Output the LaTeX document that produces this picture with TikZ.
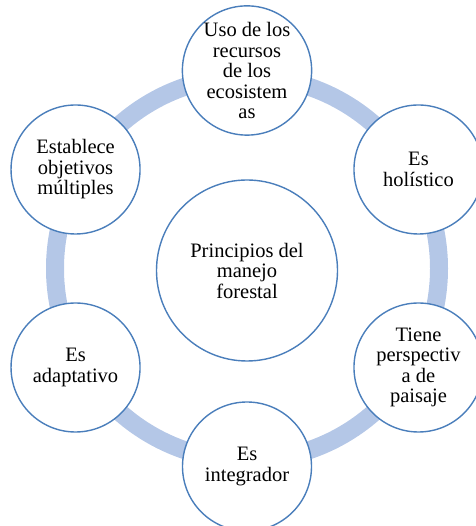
\documentclass[tikz,border=0pt]{standalone}
\usepackage{fontspec}
\setmainfont{Liberation Serif}
\usetikzlibrary{calc}

\definecolor{ringblue}{HTML}{B4C7E7}
\definecolor{edgeblue}{HTML}{4A7EBB}

\tikzset{
    principio/.style={circle, draw=edgeblue, line width=1.4pt, fill=white,
        minimum size=129pt, inner sep=0pt, align=center,
        font=\fontsize{20.5pt}{20.5pt}\selectfont},
    centro/.style={principio, minimum size=181pt}
}

\begin{document}
\begin{tikzpicture}[x=1pt, y=1pt]
        \useasboundingbox (0,0) rectangle (475,526);
        \coordinate (C) at (247,257.5);

        % Ring.
        \draw[ringblue, line width=18pt] (C) circle (192);

        % Centre.
        \node[centro] (principios) at ($(C)+(0,-2)$) {Principios del\\manejo\\forestal};

        % Around.
        \node[principio] (uso) at ($(C)+(90:198)$) {Uso de los\\recursos\\de los\\ecosistem\\as};
        \node[principio] (holistico) at ($(C)+(30:198)$) {Es\\holístico};
        \node[principio] (paisaje) at ($(C)+(-30:198)$) {Tiene\\perspectiv\\a de\\paisaje};
        \node[principio] (integrador) at ($(C)+(-90:198)$) {Es\\integrador};
        \node[principio] (adaptativo) at ($(C)+(-150:198)$) {Es\\adaptativo};
        \node[principio] (objetivos) at ($(C)+(150:198)$) {Establece\\objetivos\\múltiples};
    \end{tikzpicture}
\end{document}
